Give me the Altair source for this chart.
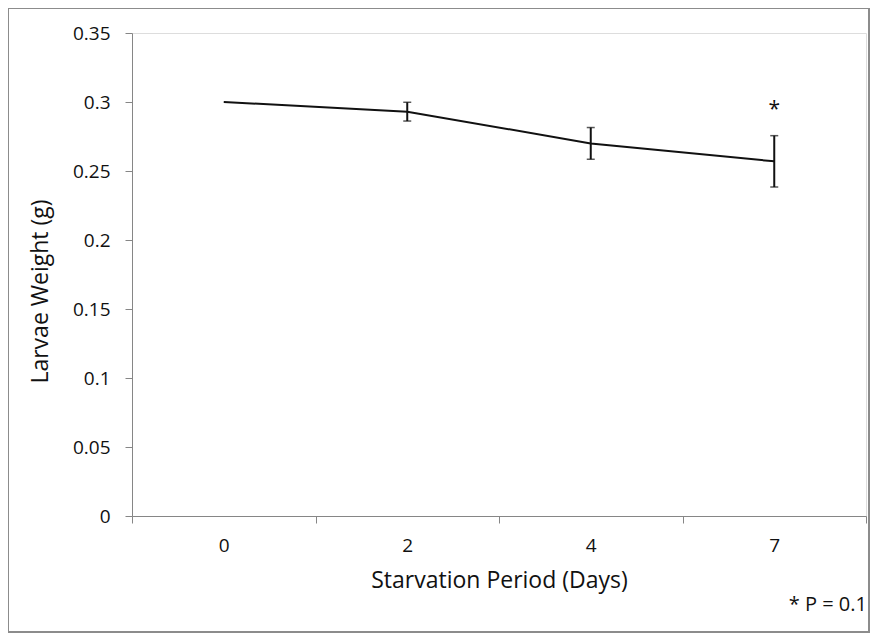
import altair as alt
import pandas as pd

days = ["0", "2", "4", "7"]
weight = [0.300, 0.293, 0.270, 0.257]
sem = [0.0, 0.0068, 0.0115, 0.0186]
sig_day = ["7"]
sig_y = [0.297]
y_ticks = [0, 0.05, 0.1, 0.15, 0.2, 0.25, 0.3, 0.35]
note_text = ["* P = 0.1"]

df = pd.DataFrame({"day": days, "weight": weight, "sem": sem})
df["lo"] = df["weight"] - df["sem"]
df["hi"] = df["weight"] + df["sem"]
err_df = df[df["sem"] > 0]
sig_df = pd.DataFrame({"day": sig_day, "y": sig_y, "t": ["*"]})

W, H = 734, 483
FONT = "Open Sans"
GRAY = "#868686"
TXT = "#111111"

x_enc = alt.X(
    "day:N",
    sort=days,
    bandPosition=0.5,
    scale=alt.Scale(type="band", domain=days, paddingInner=0, paddingOuter=0),
    axis=alt.Axis(
        title="Starvation Period (Days)",
        labelAngle=0,
        tickBand="extent",
        tickSize=7,
        labelPadding=13,
        titlePadding=14,
        domainColor=GRAY,
        tickColor=GRAY,
        labelFontSize=19,
        titleFontSize=23,
        labelFont=FONT,
        titleFont=FONT,
        titleFontWeight="normal",
        labelColor=TXT,
        titleColor=TXT,
    ),
)
y_scale = alt.Scale(domain=[0, 0.35], nice=False, zero=True)
y_enc = alt.Y(
    "weight:Q",
    scale=y_scale,
    axis=alt.Axis(
        title="Larvae Weight (g)",
        values=y_ticks,
        format="~g",
        grid=False,
        tickSize=7,
        labelPadding=15,
        titlePadding=20,
        titleY=258,
        domainColor=GRAY,
        tickColor=GRAY,
        labelFontSize=19,
        titleFontSize=23,
        labelFont=FONT,
        titleFont=FONT,
        titleFontWeight="normal",
        labelColor=TXT,
        titleColor=TXT,
    ),
)

base = alt.Chart(df)

line = base.mark_line(color="#111", strokeWidth=2).encode(x=x_enc, y=y_enc)

rules = alt.Chart(err_df).mark_rule(color="#111", strokeWidth=2).encode(
    x=alt.X("day:N", sort=days, bandPosition=0.5),
    y=alt.Y("lo:Q", scale=y_scale),
    y2="hi:Q",
)
caps_lo = alt.Chart(err_df).mark_tick(color="#111", thickness=1.5, size=8, orient="horizontal").encode(
    x=alt.X("day:N", sort=days, bandPosition=0.5),
    y=alt.Y("lo:Q", scale=y_scale),
)
caps_hi = alt.Chart(err_df).mark_tick(color="#111", thickness=1.5, size=8, orient="horizontal").encode(
    x=alt.X("day:N", sort=days, bandPosition=0.5),
    y=alt.Y("hi:Q", scale=y_scale),
)

star = alt.Chart(sig_df).mark_text(font=FONT, fontSize=21, color="#111", baseline="middle", dy=4).encode(
    x=alt.X("day:N", sort=days, bandPosition=0.5),
    y=alt.Y("y:Q", scale=y_scale),
    text="t:N",
)

note = alt.Chart(pd.DataFrame({"t": note_text})).mark_text(
    font=FONT, fontSize=20, color="#111", align="right", baseline="middle"
).encode(x=alt.value(W + 1), y=alt.value(H + 89), text="t:N")

border = alt.Chart(pd.DataFrame({"a": [0]})).mark_rect(
    fill=None, stroke="#8c8c8c", strokeWidth=2
).encode(
    x=alt.value(-124), x2=alt.value(W + 3), y=alt.value(-25), y2=alt.value(H + 116)
)

chart = (
    alt.layer(line, rules, caps_lo, caps_hi, star, note, border)
    .properties(
        width=W,
        height=H,
        autosize=alt.AutoSizeParams(type="none"),
        padding={"left": 124, "top": 25, "right": 4, "bottom": 118},
    )
    .configure_view(stroke=None)
    .configure(background="white")
)

chart.save("out.html", embed_options={"renderer": "svg", "actions": False})
